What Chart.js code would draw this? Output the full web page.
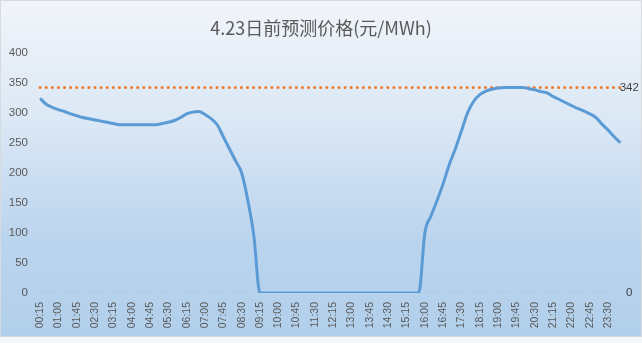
<!DOCTYPE html>
<html>
<head>
<meta charset="utf-8">
<script src="https://cdn.jsdelivr.net/npm/chart.js@4"></script>
<style>
  html, body { margin: 0; padding: 0; background: #f4f6f8; }
  #wrap { position: absolute; left: 0; top: 0; width: 640px; height: 335px;
          border: 1px solid #d6dbe0;
          background: linear-gradient(to bottom, #f1f5fa 0%, #dce8f5 35%, #bcd5ee 70%, #b1cfeb 100%); }
  #c { position: absolute; left: 0; top: 0; }
</style>
</head>
<body>
<div id="wrap"></div>
<canvas id="c" width="642" height="343"></canvas>
<script>
const titleText = '4.23日前预测价格(元/MWh)';

// 96 quarter-hour slots, 00:15 ... 24:00
const timeLabels = [
  '00:15','00:30','00:45','01:00','01:15','01:30','01:45','02:00',
  '02:15','02:30','02:45','03:00','03:15','03:30','03:45','04:00',
  '04:15','04:30','04:45','05:00','05:15','05:30','05:45','06:00',
  '06:15','06:30','06:45','07:00','07:15','07:30','07:45','08:00',
  '08:15','08:30','08:45','09:00','09:15','09:30','09:45','10:00',
  '10:15','10:30','10:45','11:00','11:15','11:30','11:45','12:00',
  '12:15','12:30','12:45','13:00','13:15','13:30','13:45','14:00',
  '14:15','14:30','14:45','15:00','15:15','15:30','15:45','16:00',
  '16:15','16:30','16:45','17:00','17:15','17:30','17:45','18:00',
  '18:15','18:30','18:45','19:00','19:15','19:30','19:45','20:00',
  '20:15','20:30','20:45','21:00','21:15','21:30','21:45','22:00',
  '22:15','22:30','22:45','23:00','23:15','23:30','23:45','24:00'
];

const priceValues = [
  324, 314, 309, 305, 302, 298, 295, 292,
  290, 288, 286, 284, 282, 280, 280, 280,
  280, 280, 280, 280, 282, 284, 287, 292,
  298, 301, 302, 297, 290, 280, 260, 240,
  220, 200, 155, 95, 0, 0, 0, 0,
  0, 0, 0, 0, 0, 0, 0, 0,
  0, 0, 0, 0, 0, 0, 0, 0,
  0, 0, 0, 0, 0, 0, 0, 100,
  128, 154, 182, 214, 240, 270, 300, 319,
  330, 336, 339, 341, 342, 342, 342, 342,
  340, 338, 335, 333, 327, 322, 317, 312,
  307, 303, 298, 292, 281, 271, 260, 250
];

const maxPrice = 342;
const zeroLine = 0;
const yTicks = [0, 50, 100, 150, 200, 250, 300, 350, 400];

const maxLine = timeLabels.map(() => maxPrice);
const baseLine = timeLabels.map(() => zeroLine);

const endLabels = {
  id: 'endLabels',
  afterDatasetsDraw(chart) {
    const ctx = chart.ctx;
    ctx.save();
    ctx.font = '11.5px "Liberation Sans", Arial, sans-serif';
    ctx.fillStyle = '#404040';
    ctx.textAlign = 'center';
    ctx.textBaseline = 'middle';
    [1, 2].forEach(i => {
      const meta = chart.getDatasetMeta(i);
      const pt = meta.data[meta.data.length - 1];
      const v = chart.data.datasets[i].data[meta.data.length - 1];
      ctx.fillText(String(v), pt.x + 9, pt.y);
    });
    ctx.restore();
  }
};

new Chart(document.getElementById('c'), {
  type: 'line',
  data: {
    labels: timeLabels,
    datasets: [
      {
        data: priceValues,
        borderColor: '#5b9bd5',
        borderWidth: 3,
        pointRadius: 0,
        cubicInterpolationMode: 'monotone',
        fill: false,
        order: 0
      },
      {
        data: maxLine,
        borderColor: '#ed7d31',
        borderWidth: 3,
        borderDash: [0.1, 6],
        borderCapStyle: 'round',
        pointRadius: 0,
        fill: false,
        order: 1
      },
      {
        data: baseLine,
        borderColor: '#b4b9be',
        borderWidth: 1,
        borderDash: [3, 3],
        pointRadius: 0,
        fill: false,
        order: 2
      }
    ]
  },
  options: {
    responsive: false,
    animation: false,
    events: [],
    layout: { padding: { left: 0, right: 0, top: 0, bottom: 0 } },
    plugins: {
      legend: { display: false },
      tooltip: { enabled: false },
      title: {
        display: true,
        text: titleText,
        color: '#595959',
        font: { size: 18, family: '"Noto Sans CJK SC", "Liberation Sans", sans-serif', weight: 'normal' },
        padding: { top: 17, bottom: 14 }
      }
    },
    scales: {
      x: {
        type: 'category',
        offset: true,
        grid: { display: false, drawTicks: false },
        border: { display: false },
        ticks: {
          autoSkip: false,
          maxRotation: 90,
          minRotation: 90,
          padding: 9,
          color: '#595959',
          font: { size: 10.5, family: '"Liberation Sans", Arial, sans-serif' },
          callback: function(val, idx) { return idx % 3 === 0 ? this.getLabelForValue(val) : ''; }
        },
        afterFit(scale) { scale.height = 50; }
      },
      y: {
        min: 0,
        max: 400,
        afterBuildTicks(scale) { scale.ticks = yTicks.map(v => ({ value: v })); },
        grid: { display: false, drawTicks: false },
        border: { display: false },
        ticks: {
          padding: 9,
          color: '#595959',
          font: { size: 11.5, family: '"Liberation Sans", Arial, sans-serif' }
        },
        afterFit(scale) { scale.width = 37; }
      },
      yRight: {
        type: 'linear',
        position: 'right',
        display: true,
        grid: { display: false, drawTicks: false },
        border: { display: false },
        ticks: { display: false },
        afterFit(scale) { scale.width = 17; }
      }
    }
  },
  plugins: [endLabels]
});
</script>
</body>
</html>
